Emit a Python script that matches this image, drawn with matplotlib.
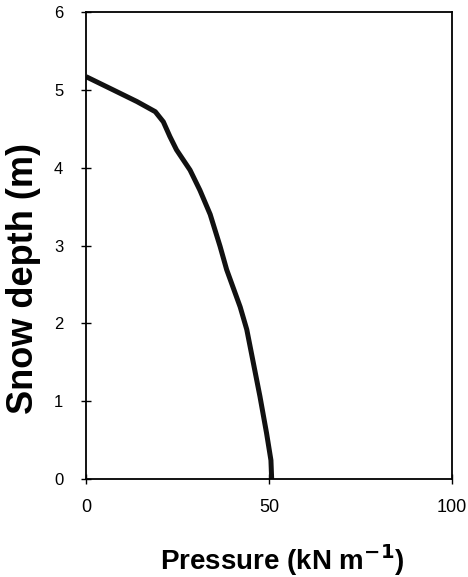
import matplotlib
matplotlib.use("Agg")
import matplotlib.pyplot as plt

# pressure (kN m^-1) vs snow depth (m)
pressure = [0, 7.4, 13.9, 18.9, 21.1, 22.9, 24.7, 28.4, 31.1, 33.9, 36.6,
            38.4, 42.1, 43.9, 45.7, 47.5, 49.3, 50.5, 50.7]
depth = [5.17, 5.0, 4.85, 4.72, 4.59, 4.40, 4.23, 3.97, 3.71, 3.40, 2.99,
         2.69, 2.21, 1.92, 1.49, 1.06, 0.59, 0.24, 0.0]

x_ticks = [0, 50, 100]
y_ticks = [0, 1, 2, 3, 4, 5, 6]

plt.rcParams['font.family'] = ['Liberation Sans', 'DejaVu Sans']

fig = plt.figure(figsize=(4.68, 5.77), dpi=100)
ax = fig.add_axes([0.184, 0.170, 0.782, 0.809])

ax.plot(pressure, depth, color='#111111', linewidth=3.6,
        solid_capstyle='butt', solid_joinstyle='round')

ax.set_xlim(0, 100)
ax.set_ylim(0, 6)
ax.set_xticks(x_ticks)
ax.set_yticks(y_ticks)
ax.tick_params(direction='inout', length=7, width=1)
ax.tick_params(axis='x', labelsize=13, pad=11)
ax.tick_params(axis='y', labelsize=12, pad=13)

for sp in ax.spines.values():
    sp.set_linewidth(1.3)

ax.set_xlabel('Pressure (kN m$^{\\mathbf{-1}}$)', fontsize=20, fontweight='bold', va='center')
ax.xaxis.set_label_coords(0.536, -0.173)
ax.set_ylabel('Snow depth (m)', fontsize=26, fontweight='bold', va='center')
ax.yaxis.set_label_coords(-0.17, 0.43)

fig.savefig("out.png", dpi=100)
